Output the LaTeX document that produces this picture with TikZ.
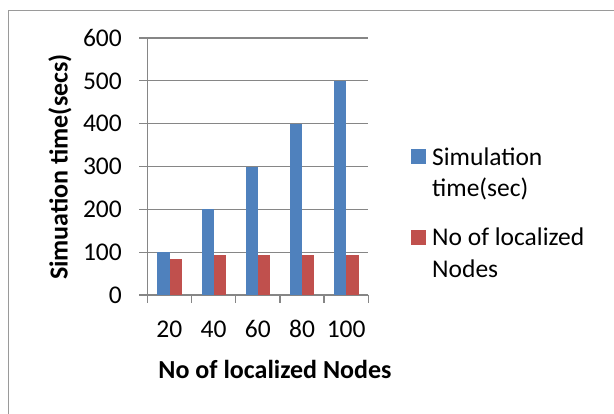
\documentclass[tikz,border=0pt]{standalone}
\usepackage{fontspec}
\setmainfont{Carlito}
\definecolor{barblue}{HTML}{4F81BD}
\definecolor{barred}{HTML}{C0504D}
\definecolor{gridgray}{HTML}{868686}
\definecolor{framegray}{HTML}{9A9A9A}
\begin{document}
\begin{tikzpicture}[x=1pt,y=-1pt,
  ticklbl/.style={font=\fontsize{25.5}{30}\selectfont,inner sep=0pt},
  axtitle/.style={font=\fontsize{26}{30}\selectfont\bfseries,inner sep=0pt},
  legtext/.style={font=\fontsize{25.5}{31}\selectfont,inner sep=0pt,anchor=base west},
  gridln/.style={draw=gridgray,line width=1.3pt},
  legsq/.style={minimum size=15pt,inner sep=0pt,anchor=north west}]
\clip (0,0) rectangle (614,414);
\fill[white] (0,0) rectangle (614,414);
\draw[framegray,line width=0.8pt] (8,10) rectangle (700,500);
% gridlines
\foreach \v in {0,100,...,600}{
  \draw[gridln] (139,{295-\v*0.4283}) -- (368,{295-\v*0.4283});
  \node[ticklbl,anchor=base east] (t\v) at (122,{295-\v*0.4283+8.3}) {\v};
}
% y axis
\draw[gridln] (147.3,38) -- (147.3,303);
% category ticks
\foreach \i in {1,...,5}{
  \draw[gridln] ({147.3+44.2*\i},295) -- ({147.3+44.2*\i},303);
}
% bars
\foreach \i/\b/\r/\lab in {0/100/85/20,1/200/94/40,2/300/94/60,3/400/94/80,4/500/94/100}{
  \fill[barblue] ({147.3+44.2*\i+10},295) rectangle ({147.3+44.2*\i+22.2},{295-\b*0.4283});
  \fill[barred] ({147.3+44.2*\i+22.2},295) rectangle ({147.3+44.2*\i+34.4},{295-\r*0.4283});
  \node[ticklbl,anchor=base] (c\lab) at ({147.3+44.2*\i+22.1},338) {\lab};
}
% axis titles
\node[axtitle,anchor=base] (xtitle) at (275,379) {No of localized Nodes};
\node[axtitle,rotate=90,anchor=center] (ytitle) at (60,167) {Simuation time(secs)};
% legend
\node[legsq,fill=barblue] (lb) at (411,149) {};
\node[legtext] (lbt1) at (432,166) {Simulation};
\node[legtext] (lbt2) at (432,197) {time(sec)};
\node[legsq,fill=barred] (lr) at (411,230) {};
\node[legtext] (lrt1) at (432,246) {No of localized};
\node[legtext] (lrt2) at (432,278) {Nodes};
\end{tikzpicture}
\end{document}
